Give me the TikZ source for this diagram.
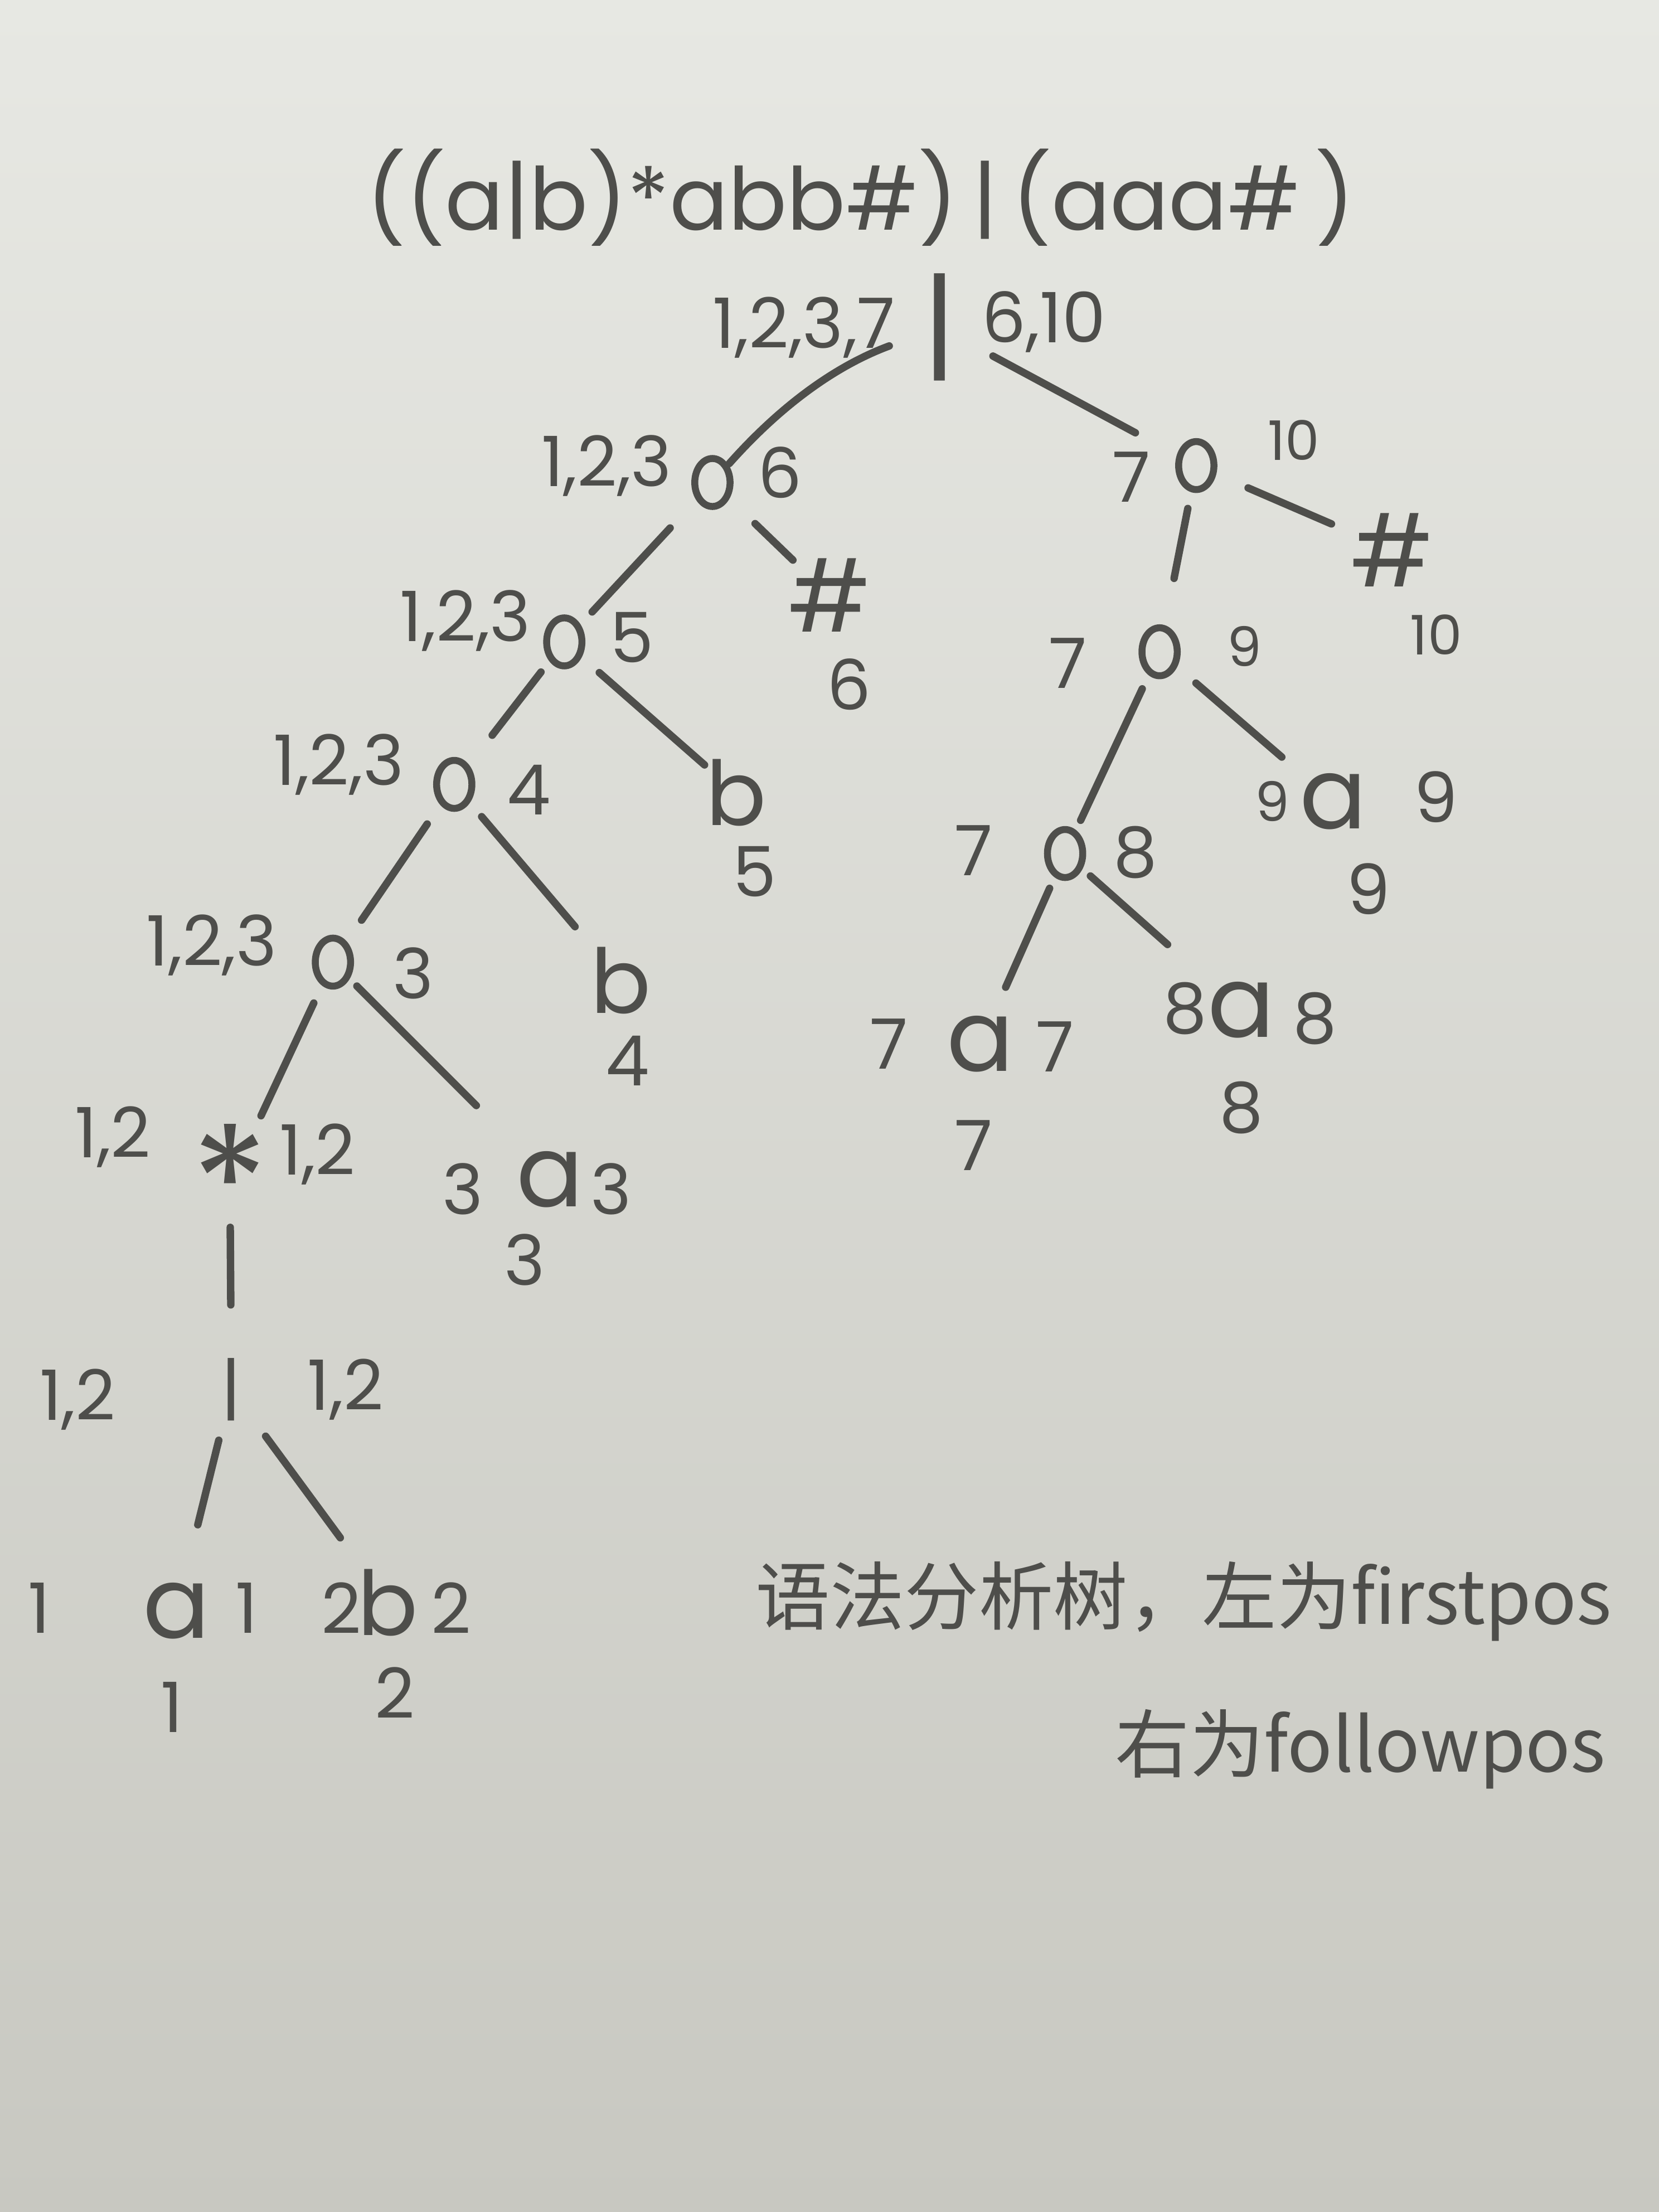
\documentclass[tikz,border=0pt]{standalone}
\usepackage{fontspec}
\setmainfont{Poppins}
\newfontfamily\cjk{Noto Sans CJK SC}
\usetikzlibrary{shapes.geometric}
\definecolor{ink}{RGB}{78,78,75}
\definecolor{papertop}{RGB}{231,232,227}
\definecolor{paperbot}{RGB}{200,200,193}
\begin{document}
\begin{tikzpicture}[x=0.01cm,y=-0.01cm,
  tree/.style={font=\fontsize{20}{24}\selectfont, text=ink, inner sep=0pt},
  treeb/.style={font=\fontsize{18}{22}\selectfont, text=ink, inner sep=0pt},
  catnode/.style={draw=ink, line width=1.4pt, ellipse, minimum width=0.25cm, minimum height=0.34cm, inner sep=0pt},
  lab/.style={font=\fontsize{14}{16}\selectfont, text=ink, inner sep=0pt},
  slab/.style={font=\fontsize{11}{13}\selectfont, text=ink, inner sep=0pt},
  edge/.style={draw=ink, line width=1.5pt, line cap=round}]
\shade[top color=papertop, bottom color=paperbot] (0,0) rectangle (1176,1568);
\useasboundingbox (0,0) rectangle (1176,1568);

% title
\node[font=\fontsize{17.5}{21}\selectfont, text=ink, inner sep=0pt] (title) at (610,140) {((a|b)*abb\#)\,|\,(aaa\#\,)};

% root
\node[font=\fontsize{24}{28}\selectfont, text=ink, inner sep=0pt] (root) at (666,232) {|};
\node[lab] (lroot) at (570,232) {1,2,3,7};
\node[lab] (rroot) at (740,228) {6,10};

% level 1
\node[catnode] (catL) at (505,342) {};
\node[lab] (lcatL) at (430,330) {1,2,3};
\node[lab] (rcatL) at (553,335) {6};
\node[catnode] (catR) at (848,330) {};
\node[lab] (lcatR) at (802,338) {7};
\node[slab] (rcatR) at (917,312) {10};

% level 2
\node[tree] (hashA) at (588,422) {\#};
\node[lab] (bhashA) at (602,485) {6};
\node[tree] (hashB) at (987,390) {\#};
\node[slab] (bhashB) at (1018,450) {10};
\node[catnode] (catB) at (400,455) {};
\node[lab] (lcatB) at (330,440) {1,2,3};
\node[lab] (rcatB) at (448,452) {5};
\node[catnode] (catRB) at (822,462) {};
\node[lab] (lcatRB) at (757,470) {7};
\node[slab] (rcatRB) at (882,458) {9};

% level 3
\node[catnode] (catC) at (322,556) {};
\node[lab] (lcatC) at (240,542) {1,2,3};
\node[lab] (rcatC) at (375,560) {4};
\node[treeb] (bfive) at (522,562) {b};
\node[lab] (bbfive) at (535,618) {5};
\node[catnode] (catRC) at (755,605) {};
\node[lab] (lcatRC) at (690,603) {7};
\node[lab] (rcatRC) at (805,604) {8};
\node[tree] (anine) at (945,568) {a};
\node[slab] (lanine) at (902,568) {9};
\node[lab] (ranine) at (1018,565) {9};
\node[lab] (banine) at (970,630) {9};

% level 4
\node[catnode] (catD) at (236,682) {};
\node[lab] (lcatD) at (150,670) {1,2,3};
\node[lab] (rcatD) at (293,690) {3};
\node[treeb] (bfour) at (440,695) {b};
\node[lab] (bbfour) at (445,752) {4};
\node[tree] (aseven) at (695,740) {a};
\node[lab] (laseven) at (630,740) {7};
\node[lab] (raseven) at (748,742) {7};
\node[lab] (baseven) at (690,812) {7};
\node[tree] (aeight) at (880,716) {a};
\node[lab] (laeight) at (840,715) {8};
\node[lab] (raeight) at (932,722) {8};
\node[lab] (baeight) at (880,785) {8};

% level 5
\node[font=\fontsize{32}{36}\selectfont, text=ink, inner sep=0pt] (star) at (163,838) {*};
\node[lab] (lstar) at (80,806) {1,2};
\node[lab] (rstar) at (225,818) {1,2};
\node[tree] (athree) at (390,836) {a};
\node[lab] (lathree) at (328,843) {3};
\node[lab] (rathree) at (433,843) {3};
\node[lab] (bathree) at (372,893) {3};

% inner or
\node[lab] (ortwo) at (164,985) {|};
\node[lab] (lortwo) at (55,992) {1,2};
\node[lab] (rortwo) at (245,985) {1,2};

% leaves 1, 2
\node[tree] (aone) at (125,1142) {a};
\node[lab] (laone) at (28,1140) {1};
\node[lab] (raone) at (175,1140) {1};
\node[lab] (baone) at (122,1210) {1};
\node[treeb] (btwo) at (275,1136) {b};
\node[lab] (lbtwo) at (242,1140) {2};
\node[lab] (rbtwo) at (320,1140) {2};
\node[lab] (bbtwo) at (280,1200) {2};

% edges
\draw[edge, shorten <=0.38cm, shorten >=0.18cm] (root.center) to[bend right=14] (catL.center);
\draw[edge, shorten <=0.43cm, shorten >=0.49cm] (root.center) -- (catR.center);
\draw[edge, shorten <=0.42cm, shorten >=0.36cm] (catL.center) -- (hashA.center);
\draw[edge, shorten <=0.40cm, shorten >=0.47cm] (catR.center) -- (hashB.center);
\draw[edge, shorten <=0.44cm, shorten >=0.29cm] (catL.center) -- (catB.center);
\draw[edge, shorten <=0.31cm, shorten >=0.53cm] (catR.center) -- (catRB.center);
\draw[edge, shorten <=0.33cm, shorten >=0.30cm] (catB.center) -- (bfive.center);
\draw[edge, shorten <=0.27cm, shorten >=0.44cm] (catB.center) -- (catC.center);
\draw[edge, shorten <=0.34cm, shorten >=0.48cm] (catRB.center) -- (anine.center);
\draw[edge, shorten <=0.29cm, shorten >=0.26cm] (catRB.center) -- (catRC.center);
\draw[edge, shorten <=0.30cm, shorten >=0.50cm] (catC.center) -- (bfour.center);
\draw[edge, shorten <=0.34cm, shorten >=0.36cm] (catC.center) -- (catD.center);
\draw[edge, shorten <=0.24cm, shorten >=0.70cm] (catRC.center) -- (aeight.center);
\draw[edge, shorten <=0.27cm, shorten >=0.44cm] (catRC.center) -- (aseven.center);
\draw[edge, shorten <=0.24cm, shorten >=0.74cm] (catD.center) -- (athree.center);
\draw[edge, shorten <=0.32cm, shorten >=0.52cm] (catD.center) -- (star.center);
\draw[edge, shorten <=0.32cm, shorten >=0.60cm] (star.center) -- (ortwo.center);
\draw[edge, shorten <=0.37cm, shorten >=0.63cm] (ortwo.center) -- (aone.center);
\draw[edge, shorten <=0.41cm, shorten >=0.57cm] (ortwo.center) -- (btwo.center);

% note
\node[anchor=west, font=\cjk\fontsize{15}{18}\selectfont, text=ink, inner sep=0pt] (noteA) at (535,1135) {语法分析树，左为firstpos};
\node[anchor=west, font=\cjk\fontsize{15}{18}\selectfont, text=ink, inner sep=0pt] (noteB) at (790,1240) {右为followpos};
\end{tikzpicture}
\end{document}
